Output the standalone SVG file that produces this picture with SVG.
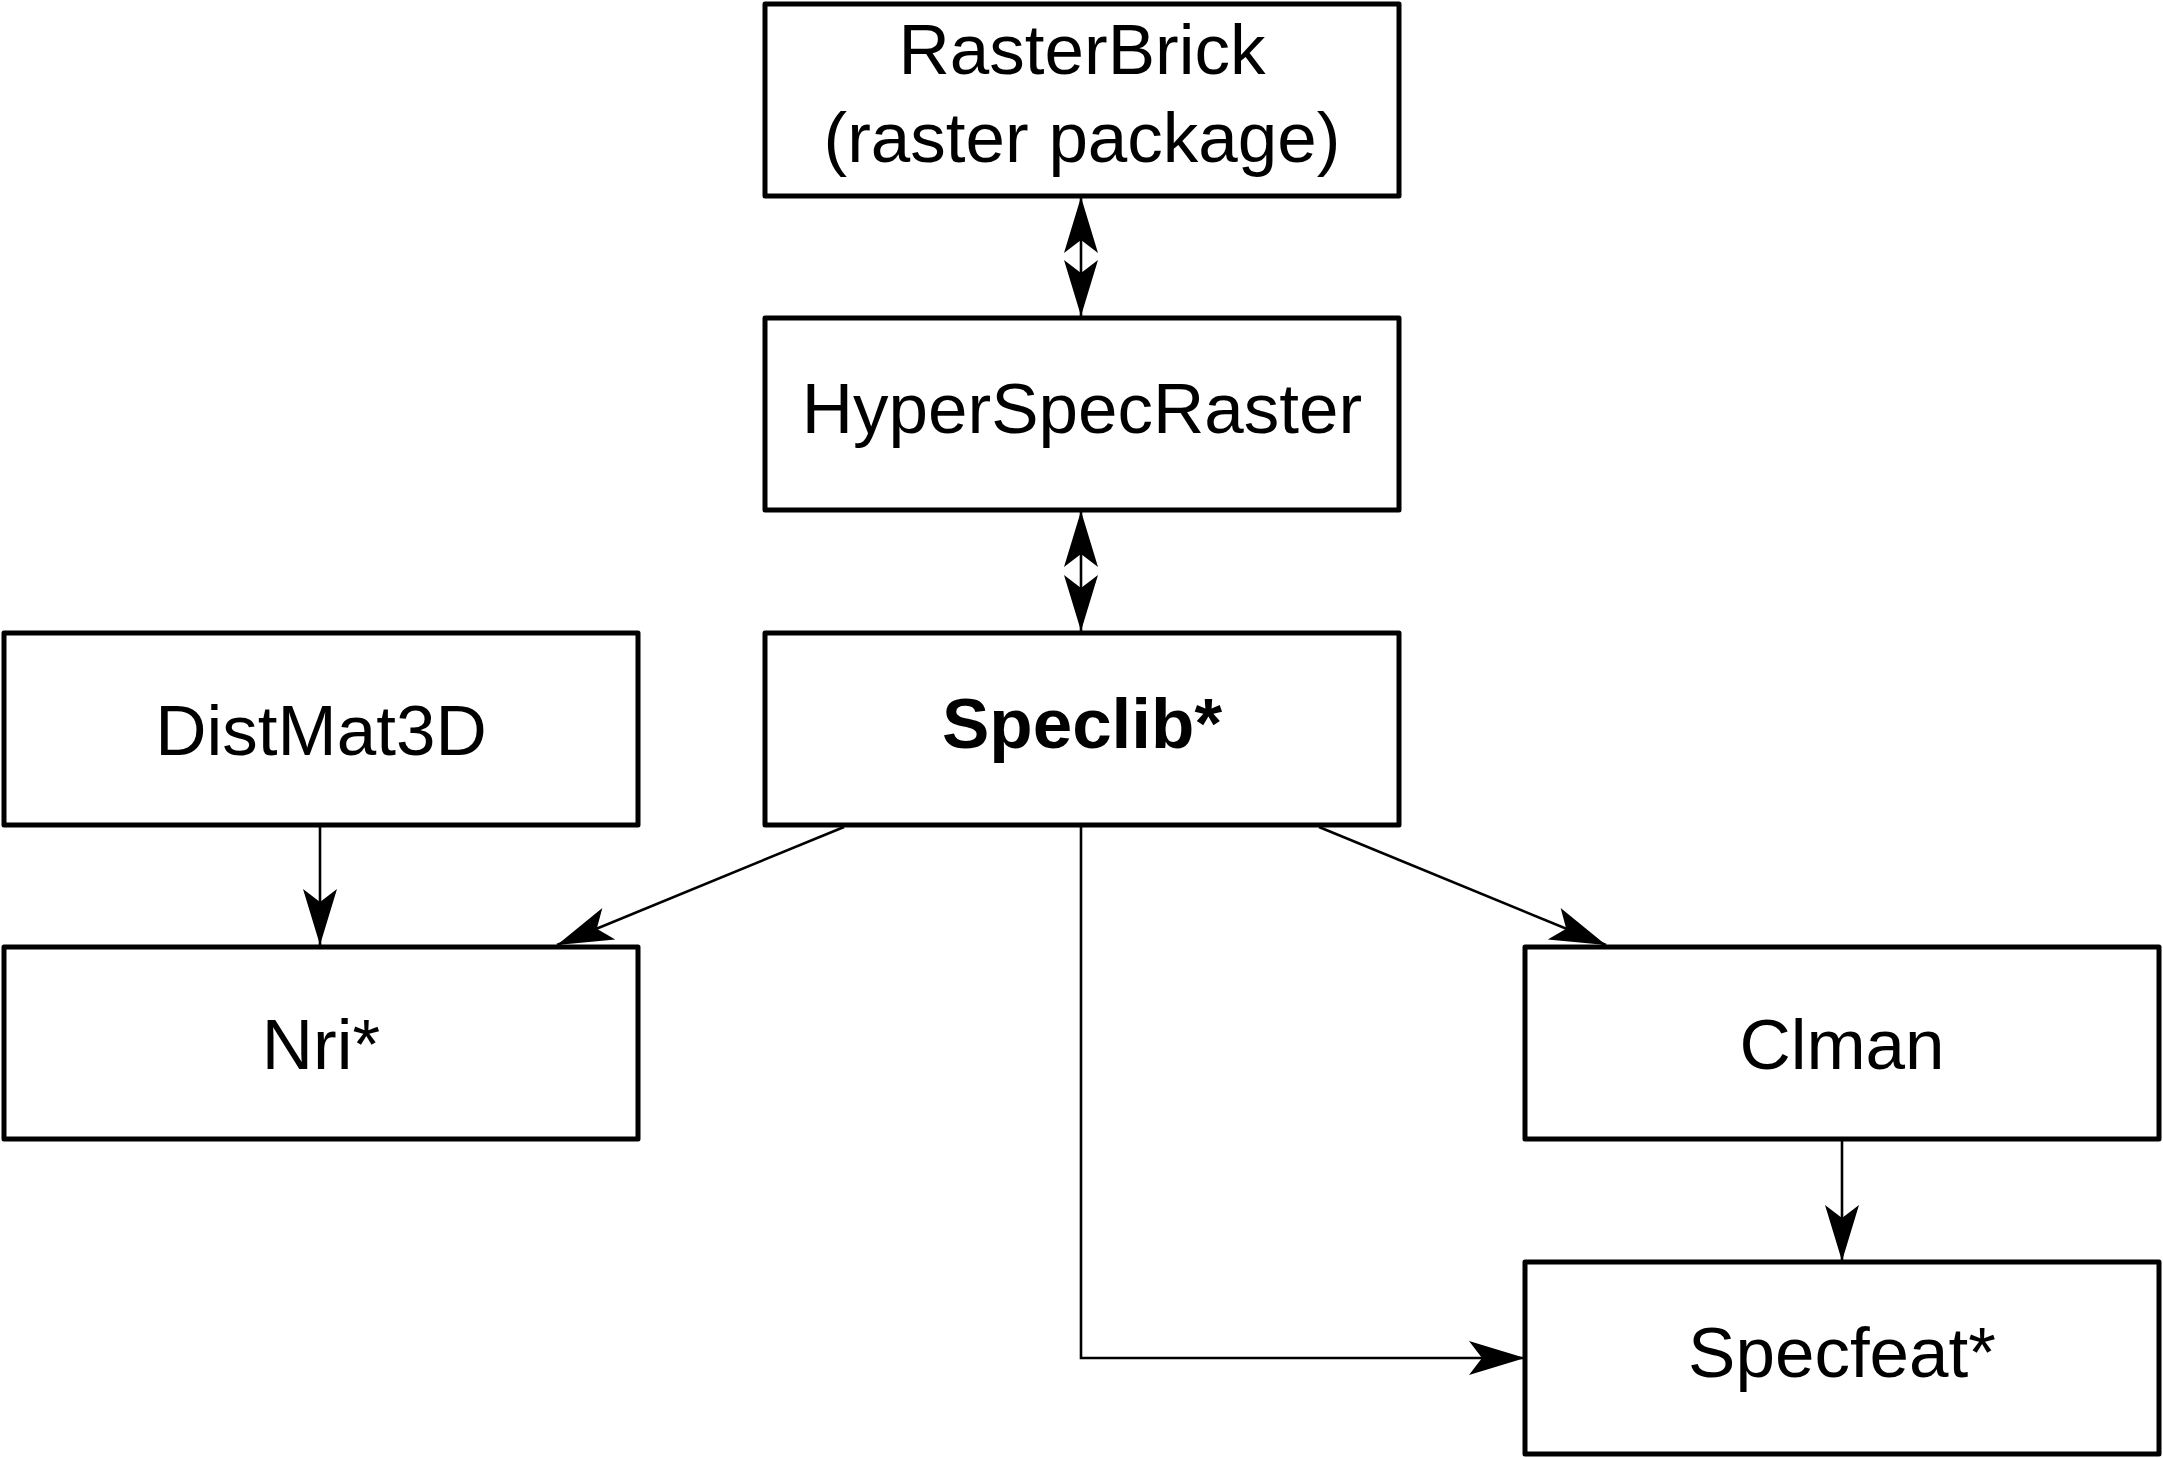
<svg xmlns="http://www.w3.org/2000/svg" width="2163" height="1458" viewBox="0 0 2163 1458">
<style>
.box{fill:#fff;stroke:#000;stroke-width:5;stroke-linejoin:round}
.lbl{font-family:"Liberation Sans",Arial,Helvetica,sans-serif;font-size:71px;fill:#000;text-anchor:middle}
.bold{font-weight:bold}
.con{fill:none;stroke:#000;stroke-width:2.6}
</style>
<defs>
<marker id="ah" markerUnits="userSpaceOnUse" viewBox="-60 -20 64 40" refX="0" refY="0" markerWidth="64" markerHeight="40" orient="auto-start-reverse">
<path d="M0,0 L-56,-17 L-43,0 L-56,17 Z" fill="#000"/>
</marker>
</defs>
<rect width="2163" height="1458" fill="#fff"/>
<g id="connectors">
<line class="con" x1="1081" y1="197" x2="1081" y2="316" marker-start="url(#ah)" marker-end="url(#ah)"/>
<line class="con" x1="1081" y1="511" x2="1081" y2="631" marker-start="url(#ah)" marker-end="url(#ah)"/>
<line class="con" x1="320" y1="827" x2="320" y2="945" marker-end="url(#ah)"/>
<line class="con" x1="844" y1="827" x2="557" y2="945" marker-end="url(#ah)"/>
<line class="con" x1="1319" y1="827" x2="1606" y2="945" marker-end="url(#ah)"/>
<line class="con" x1="1842" y1="1141" x2="1842" y2="1261" marker-end="url(#ah)"/>
<path class="con" d="M1081,827 V1358 H1525" marker-end="url(#ah)"/>
</g>
<g id="rasterbrick">
<rect class="box" x="765" y="4" width="634" height="192"/>
<text class="lbl" x="1082" y="74">RasterBrick</text>
<text class="lbl" x="1082" y="162">(raster package)</text>
</g>
<g id="hyperspecraster">
<rect class="box" x="765" y="318" width="634" height="192"/>
<text class="lbl" x="1082" y="433">HyperSpecRaster</text>
</g>
<g id="speclib">
<rect class="box" x="765" y="633" width="634" height="192"/>
<text class="lbl bold" x="1082" y="748">Speclib*</text>
</g>
<g id="distmat3d">
<rect class="box" x="4" y="633" width="634" height="192"/>
<text class="lbl" x="321" y="755">DistMat3D</text>
</g>
<g id="nri">
<rect class="box" x="4" y="947" width="634" height="192"/>
<text class="lbl" x="321" y="1069">Nri*</text>
</g>
<g id="clman">
<rect class="box" x="1525" y="947" width="634" height="192"/>
<text class="lbl" x="1842" y="1069">Clman</text>
</g>
<g id="specfeat">
<rect class="box" x="1525" y="1262" width="634" height="192"/>
<text class="lbl" x="1842" y="1377">Specfeat*</text>
</g>
</svg>
